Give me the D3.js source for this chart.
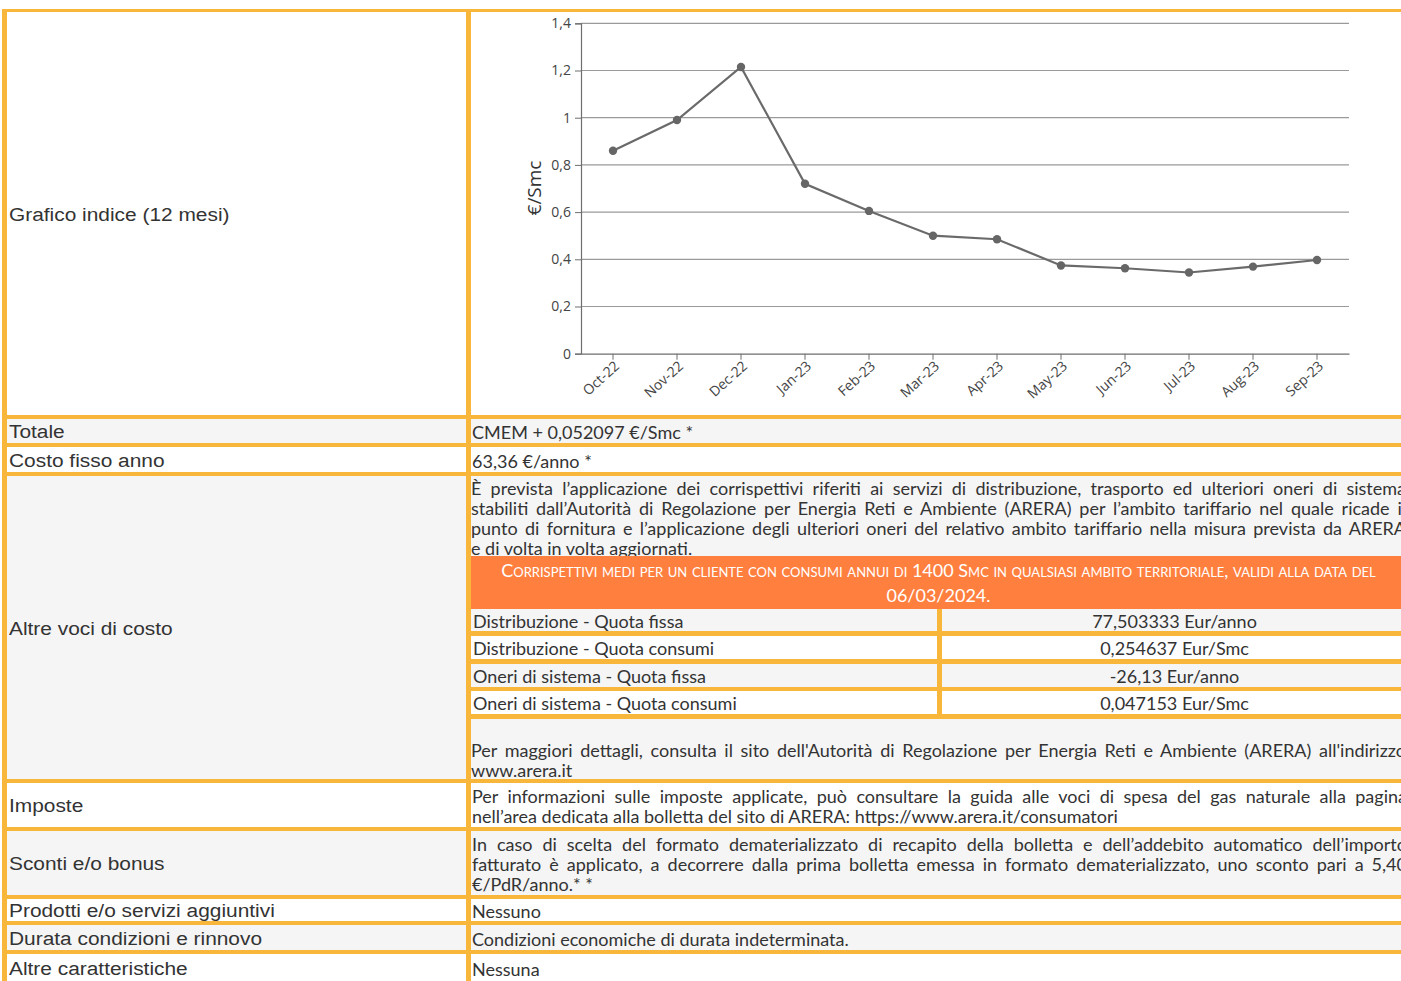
<!DOCTYPE html>
<html>
<head>
<meta charset="utf-8">
<script src="https://cdn.jsdelivr.net/npm/d3@7"></script>
<style>
  html, body { margin: 0; padding: 0; background: #fff; overflow: hidden; }
  #page { position: relative; width: 1401px; height: 981px; overflow: hidden; }
  .frame { position: absolute; left: 2px; top: 9px; width: 1430px; height: 1000px; background: #f8b63b; }
  .cell { position: absolute; overflow: hidden; box-sizing: border-box; color: #333; }
  .lab { font-family: "Liberation Sans", Arial, sans-serif; font-size: 18px; display: flex; align-items: center;
         padding-left: 2px; padding-top: 3px; }
  .lab span { display: inline-block; transform: scaleX(1.16); transform-origin: 0 50%; white-space: nowrap; }
  .val { font-family: Lato, "Open Sans", sans-serif; font-size: 18px; line-height: 20px; padding-left: 1px; padding-top: 2px;
         display: flex; flex-direction: column; justify-content: center; }
  .ln { white-space: nowrap; width: 935px; }
  .just { text-align: justify; text-align-last: justify; white-space: normal; }
  .box { position: absolute; box-sizing: border-box; overflow: hidden; }
  .head { color: #fff; background: #ff7f3f; font-variant: small-caps; font-family: Lato, sans-serif;
          font-size: 18px; line-height: 25px; text-align: center; padding-top: 2px; }
  svg text { font-family: "Open Sans", sans-serif; fill: #444; }
</style>
</head>
<body>
<div id="page"></div>
<script>
// chart data
const months = ["Oct-22", "Nov-22", "Dec-22", "Jan-23", "Feb-23", "Mar-23",
                "Apr-23", "May-23", "Jun-23", "Jul-23", "Aug-23", "Sep-23"];
const indexValues = [0.86, 0.99, 1.215, 0.72, 0.605, 0.5, 0.485, 0.374, 0.362, 0.344, 0.369, 0.397];
const yTicks = [0, 0.2, 0.4, 0.6, 0.8, 1, 1.2, 1.4];
const yLabel = "€/Smc";

// table text
const rowLabels = ["Grafico indice (12 mesi)", "Totale", "Costo fisso anno", "Altre voci di costo",
                   "Imposte", "Sconti e/o bonus", "Prodotti e/o servizi aggiuntivi",
                   "Durata condizioni e rinnovo", "Altre caratteristiche"];
const rowValues = [
  null,
  ["CMEM + 0,052097 €/Smc *"],
  ["63,36 €/anno *"],
  null,
  ["Per informazioni sulle imposte applicate, può consultare la guida alle voci di spesa del gas naturale alla pagina",
   "nell’area dedicata alla bolletta del sito di ARERA: https://www.arera.it/consumatori"],
  ["In caso di scelta del formato dematerializzato di recapito della bolletta e dell’addebito automatico dell’importo",
   "fatturato è applicato, a decorrere dalla prima bolletta emessa in formato dematerializzato, uno sconto pari a 5,40",
   "€/PdR/anno.* *"],
  ["Nessuno"],
  ["Condizioni economiche di durata indeterminata."],
  ["Nessuna"]
];
const otherIntro = [
  "È prevista l’applicazione dei corrispettivi riferiti ai servizi di distribuzione, trasporto ed ulteriori oneri di sistema",
  "stabiliti dall’Autorità di Regolazione per Energia Reti e Ambiente (ARERA) per l’ambito tariffario nel quale ricade il",
  "punto di fornitura e l’applicazione degli ulteriori oneri del relativo ambito tariffario nella misura prevista da ARERA",
  "e di volta in volta aggiornati."
];
const otherHeader = ["Corrispettivi medi per un cliente con consumi annui di 1400 Smc in qualsiasi ambito territoriale, validi alla data del",
                     "06/03/2024."];
const costItems = ["Distribuzione - Quota fissa", "Distribuzione - Quota consumi",
                   "Oneri di sistema - Quota fissa", "Oneri di sistema - Quota consumi"];
const costValues = ["77,503333 Eur/anno", "0,254637 Eur/Smc", "-26,13 Eur/anno", "0,047153 Eur/Smc"];
const otherFooter = ["Per maggiori dettagli, consulta il sito dell'Autorità di Regolazione per Energia Reti e Ambiente (ARERA) all'indirizzo",
                     "www.arera.it"];

// layout (page pixels)
const rowTop = [12, 419, 447, 476, 783, 831, 899, 925, 954];
const rowH = [403, 24, 25, 303, 44, 64, 22, 25, 28];
const leftX = 7, leftW = 459, rightX = 471, rightW = 940;
const GREY = "#f5f5f5";

const page = d3.select("#page");
page.append("div").attr("class", "frame");

function addLines(sel, lines) {
  lines.forEach((t, i) => {
    sel.append("div")
      .attr("class", i < lines.length - 1 ? "ln just" : "ln")
      .text(t);
  });
}

rowLabels.forEach((label, i) => {
  const bg = i % 2 ? GREY : "#fff";
  page.append("div").attr("class", "cell lab")
    .style("left", leftX + "px").style("top", rowTop[i] + "px")
    .style("width", leftW + "px").style("height", rowH[i] + "px")
    .style("background", bg)
    .append("span").text(label);

  const rc = page.append("div").attr("class", "cell val")
    .style("left", rightX + "px").style("top", rowTop[i] + "px")
    .style("width", rightW + "px").style("height", rowH[i] + "px")
    .style("background", bg);
  if (rowValues[i]) addLines(rc, rowValues[i]);
});

// "Altre voci di costo" cell content
const other = page.append("div").attr("class", "cell")
  .style("left", rightX + "px").style("top", rowTop[3] + "px")
  .style("width", rightW + "px").style("height", rowH[3] + "px")
  .style("background", GREY);

function box(parent, x, y, w, h) {
  return parent.append("div").attr("class", "box")
    .style("left", (x - rightX) + "px").style("top", (y - rowTop[3]) + "px")
    .style("width", w + "px").style("height", h + "px");
}

const intro = box(other, 471, 478, 940, 78).attr("class", "box val")
  .style("display", "block").style("padding-left", "0px").style("padding-top", "0px");
addLines(intro, otherIntro);

const head = box(other, 471, 556, 935, 53).attr("class", "box head");
head.selectAll("div").data(otherHeader).join("div").text(d => d);

box(other, 471, 609, 940, 110).style("background", "#f8b63b");
const innerTop = [609, 636, 664, 691];
const innerH = [22, 23, 23, 23];
costItems.forEach((item, i) => {
  const bg = i % 2 ? "#fff" : GREY;
  box(other, 471, innerTop[i], 466, innerH[i]).attr("class", "box val")
    .style("background", bg).style("padding-left", "2px").style("padding-top", "1px").text(item);
  box(other, 942, innerTop[i], 464, innerH[i]).attr("class", "box val")
    .style("background", bg).style("padding-top", "1px").style("text-align", "center").style("align-items", "center")
    .text(costValues[i]);
});

const foot = box(other, 471, 740, 940, 40).attr("class", "box val")
  .style("display", "block").style("padding-left", "0px").style("padding-top", "0px");
addLines(foot, otherFooter);

// chart
const svg = page.append("svg")
  .style("position", "absolute").style("left", rightX + "px").style("top", rowTop[0] + "px")
  .attr("width", rightW).attr("height", rowH[0]);
const g = svg.append("g").attr("transform", `translate(${-rightX},${-rowTop[0]})`);

const x = d3.scaleBand().domain(months).range([581, 1349]).padding(0);
const y = d3.scaleLinear().domain([0, 1.4]).range([353.7, 23.3]);
const fmt = d3.formatLocale({ decimal: ",", thousands: ".", grouping: [3], currency: ["", "€"] }).format("~g");

g.append("g").selectAll("line").data(yTicks.slice(1)).join("line")
  .attr("x1", 581).attr("x2", 1349)
  .attr("y1", d => y(d)).attr("y2", d => y(d))
  .attr("stroke", "#9a9a9a").attr("stroke-width", 1.2);

const yAxis = g.append("g").attr("transform", "translate(581,0)")
  .call(d3.axisLeft(y).tickValues(yTicks).tickFormat(fmt).tickSize(6).tickPadding(4));
yAxis.select(".domain").attr("stroke", "#6e6e6e").attr("stroke-width", 1.2);
yAxis.selectAll(".tick line").attr("stroke", "#6e6e6e");
yAxis.selectAll("text").style("font-size", "14px").style("fill", "#444");

const xAxis = g.append("g").attr("transform", "translate(0,353.7)")
  .call(d3.axisBottom(x).tickSize(6).tickSizeOuter(0));
xAxis.select(".domain").attr("stroke", "#6e6e6e").attr("stroke-width", 1.2);
xAxis.selectAll(".tick line").attr("stroke", "#6e6e6e");
xAxis.selectAll("text")
  .attr("x", 0).attr("y", 0).attr("dy", "0.35em")
  .attr("text-anchor", "end")
  .attr("transform", "translate(4,10) rotate(-42)")
  .style("font-size", "14px").style("fill", "#444");

g.append("text")
  .attr("transform", `translate(541,188) rotate(-90)`)
  .attr("text-anchor", "middle")
  .style("font-size", "19px").style("fill", "#333")
  .text(yLabel);

const cx = (d, i) => x(months[i]) + x.bandwidth() / 2;
g.append("path")
  .datum(indexValues)
  .attr("fill", "none").attr("stroke", "#6a6a6a").attr("stroke-width", 2.2)
  .attr("d", d3.line().x(cx).y(d => y(d)));
g.append("g").selectAll("circle").data(indexValues).join("circle")
  .attr("cx", cx).attr("cy", d => y(d)).attr("r", 4.2)
  .attr("fill", "#666");
</script>
</body>
</html>
